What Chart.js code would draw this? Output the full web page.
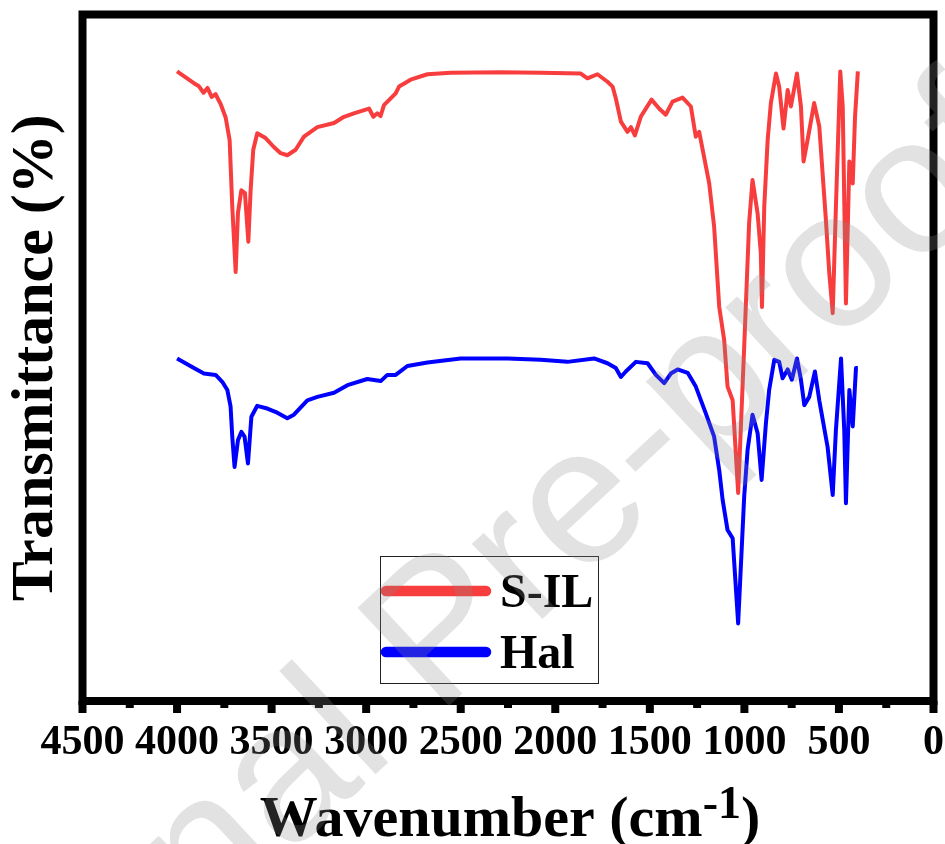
<!DOCTYPE html>
<html>
<head>
<meta charset="utf-8">
<title>FTIR S-IL / Hal</title>
<script src="https://cdn.jsdelivr.net/npm/chart.js@4.4.1/dist/chart.umd.min.js"></script>
<style>
  html,body{margin:0;padding:0;background:#fff;}
  #wrap{width:945px;height:844px;}
</style>
</head>
<body>
<div id="wrap"><canvas id="ftir" width="945" height="844"></canvas></div>
<script>
// wavenumber (cm-1) and transmittance (arb. units, plot height = 0..100)
const silWavenumber = [
  4000,3911,3886,3860,3839,3817,3796,3780,3770,3743,
  3722,3708,3690,3678,3660,3641,3623,3611,3597,3576,
  3532,3488,3452,3417,3373,3329,3258,3170,3117,3065,
  2985,2962,2941,2924,2906,2844,2826,2765,2676,2553,
  2288,2077,1865,1830,1777,1724,1697,1680,1653,1618,
  1600,1579,1548,1491,1451,1416,1380,1327,1283,1257,
  1239,1186,1160,1133,1107,1089,1062,1033,1001,975,
  957,930,913,907,895,877,860,833,816,793,
  771,754,722,701,687,666,631,604,569,551,
  533,516,493,480,463,445,427,415,400
];
const silT = [
  91.7,90.0,89.6,88.6,89.3,88.0,88.4,87.5,87.0,85.0,
  81.7,72.0,62.5,71.1,74.4,74.0,66.9,74.4,80.3,82.7,
  82.0,80.7,79.8,79.5,80.3,82.2,83.6,84.2,85.1,85.6,
  86.3,85.1,85.6,85.2,86.8,88.5,89.5,90.5,91.3,91.5,
  91.6,91.5,91.4,90.7,91.3,90.2,89.5,87.8,84.4,82.9,
  83.6,82.4,85.1,87.6,86.3,85.4,87.3,87.9,86.6,82.2,
  82.9,75.4,69.1,57.4,52.6,45.8,43.8,30.3,51.6,69.6,
  75.9,71.0,65.2,57.4,72.0,81.7,87.1,91.4,89.5,83.4,
  89.0,86.6,91.4,86.6,78.6,81.7,87.1,83.7,70.1,62.3,
  56.5,72.0,91.7,86.6,57.9,78.6,75.4,85.1,91.7
];

const halWavenumber = [
  4000,3911,3858,3796,3761,3734,3717,3708,3696,3678,
  3660,3643,3625,3607,3576,3523,3470,3417,3382,3311,
  3258,3170,3099,2994,2923,2888,2844,2782,2676,2500,
  2253,2077,1936,1795,1724,1680,1653,1627,1574,1512,
  1468,1424,1389,1353,1300,1257,1204,1160,1133,1115,
  1089,1062,1033,1001,983,957,930,909,886,869,
  842,816,798,771,749,722,701,683,657,627,
  604,560,533,516,489,472,463,445,427,410,
  400
];
const halT = [
  49.9,48.5,47.7,47.5,46.5,45.3,42.9,38.5,34.1,38.0,
  39.2,38.5,34.6,41.4,43.0,42.6,42.0,41.2,41.7,43.8,
  44.3,44.9,46.0,46.9,46.6,47.5,47.5,48.8,49.3,49.9,
  49.9,49.7,49.4,49.9,49.2,48.5,47.2,48.0,49.4,49.2,
  47.5,46.3,47.7,48.3,47.8,45.8,41.9,38.5,33.6,29.3,
  24.9,23.7,11.3,29.8,36.6,41.7,39.0,32.2,40.5,45.3,
  49.7,49.4,47.0,48.3,46.8,49.9,46.8,43.1,44.3,48.0,
  43.8,37.0,30.0,39.5,49.9,39.5,28.8,45.3,40.0,48.5,
  48.5
];

const majorTicks = [4500,4000,3500,3000,2500,2000,1500,1000,500,0];
const minorTicks = [4250,3750,3250,2750,2250,1750,1250,750,250];

const SERIF = "'Liberation Serif','Times New Roman',serif";

function pairs(xs, ys){
  return xs.map((x,i)=>({x:x, y:ys[i]}));
}

function seg(ctx, x1, y1, x2, y2){
  ctx.beginPath(); ctx.moveTo(x1,y1); ctx.lineTo(x2,y2); ctx.stroke();
}

// frame, ticks, legend, x title and the watermark
const decor = {
  id: 'decor',
  beforeDraw(chart){
    const ctx = chart.ctx;
    ctx.save();
    ctx.fillStyle = '#fff';
    ctx.fillRect(0, 0, chart.width, chart.height);
    ctx.restore();
  },
  afterDraw(chart){
    const ctx = chart.ctx;
    const a = chart.chartArea;
    const x = chart.scales.x;
    ctx.save();

    ctx.strokeStyle = '#000';
    ctx.lineWidth = 8;
    ctx.strokeRect(a.left, a.top, a.right - a.left, a.bottom - a.top);

    majorTicks.forEach(v=>{
      const px = x.getPixelForValue(v);
      seg(ctx, px, a.bottom, px, a.bottom + 12);
    });
    minorTicks.forEach(v=>{
      const px = x.getPixelForValue(v);
      seg(ctx, px, a.bottom, px, a.bottom + 7);
    });

    // legend box
    const box = {l:380, t:556, r:598, b:683};
    ctx.lineWidth = 1;
    ctx.strokeStyle = '#222';
    ctx.strokeRect(box.l + 0.5, box.t + 0.5, box.r - box.l, box.b - box.t);
    ctx.font = 'bold 48px ' + SERIF;
    ctx.textBaseline = 'alphabetic';
    ctx.textAlign = 'left';
    chart.data.datasets.forEach((ds, i)=>{
      const y = 591 + i*61;
      ctx.strokeStyle = ds.borderColor;
      ctx.lineWidth = 10.5;
      ctx.lineCap = 'round';
      seg(ctx, 386, y, 486, y);
      ctx.fillStyle = '#000';
      ctx.fillText(ds.label, 500, y + 16);
    });

    // x title with superscript
    const main = 'Wavenumber (cm', sup = '-1', close = ')';
    const bigFont = 'bold 58px ' + SERIF, supFont = 'bold 46px ' + SERIF;
    ctx.font = bigFont;
    const wMain = ctx.measureText(main).width, wClose = ctx.measureText(close).width;
    ctx.font = supFont;
    const wSup = ctx.measureText(sup).width;
    let sx = (a.left + a.right)/2 - (wMain + wSup + wClose)/2 + 2;
    ctx.fillStyle = '#000';
    ctx.font = bigFont;
    ctx.fillText(main, sx, 836);
    sx += wMain;
    ctx.font = supFont;
    ctx.fillText(sup, sx, 818);
    sx += wSup;
    ctx.font = bigFont;
    ctx.fillText(close, sx, 836);

    // watermark
    ctx.translate(-70, 1190);
    ctx.rotate(-43*Math.PI/180);
    ctx.font = "195px 'Liberation Sans', Arial, sans-serif";
    ctx.fillStyle = 'rgba(140,140,140,0.25)';
    ctx.fillText('Journal Pre-proof', 0, 0);

    ctx.restore();
  }
};

new Chart(document.getElementById('ftir'), {
  type: 'line',
  data: {
    datasets: [
      {label:'S-IL', data: pairs(silWavenumber, silT), borderColor:'#f73d3d', borderWidth:4, pointRadius:0, tension:0, borderJoinStyle:'round', fill:false},
      {label:'Hal', data: pairs(halWavenumber, halT), borderColor:'#0000ff', borderWidth:4, pointRadius:0, tension:0, borderJoinStyle:'round', fill:false}
    ]
  },
  options: {
    responsive: false,
    animation: false,
    devicePixelRatio: 1,
    events: [],
    layout: {padding: {top:14.5, right:11.5, left:0, bottom:0}},
    plugins: {legend:{display:false}, tooltip:{enabled:false}, title:{display:false}},
    scales: {
      x: {
        type: 'linear',
        reverse: true,
        min: 0, max: 4500,
        afterFit(scale){
          scale.height = 143;
          scale.paddingLeft = 0;
          scale.paddingRight = 0;
        },
        grid: {display:false, drawTicks:false},
        border: {display:false},
        ticks: {
          stepSize: 500,
          autoSkip: false,
          maxRotation: 0,
          padding: 17,
          color: '#000',
          font: {family: SERIF, size: 42, weight: 'bold'},
          callback: v => String(v)
        }
      },
      y: {
        min: 0, max: 100,
        afterFit(scale){ scale.width = 82.5; },
        grid: {display:false, drawTicks:false},
        border: {display:false},
        ticks: {display:false},
        title: {
          display: true,
          text: 'Transmittance (%)',
          color: '#000',
          padding: 0,
          font: {family: SERIF, size: 60, weight: 'bold'}
        }
      }
    }
  },
  plugins: [decor]
});
</script>
</body>
</html>
